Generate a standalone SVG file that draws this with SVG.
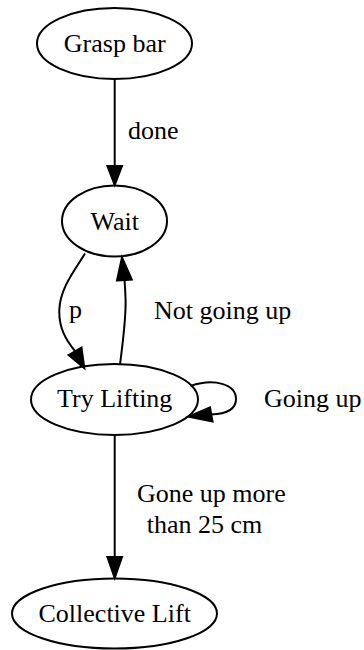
<svg xmlns="http://www.w3.org/2000/svg" width="364" height="650" viewBox="0 0 364 650">
  <style>
    .node ellipse { fill: none; stroke: #000; stroke-width: 2; }
    .edge path { fill: none; stroke: #000; stroke-width: 2; }
    .edge polygon { fill: #000; stroke: #000; stroke-width: 2; }
    text { font-family: 'Liberation Serif', Tinos, Times, 'DejaVu Serif', serif; font-size: 26px; fill: #000; }
    .node text { text-anchor: middle; }
  </style>
  <rect width="364" height="650" fill="#fff"/>

  <!-- connectors -->
  <g id="edges">
    <g class="edge" id="grasp_wait">
      <path d="M114.7,80 L114.7,166"/>
      <polygon points="107.4,166 122,166 114.7,185"/>
      <text x="128" y="139">done</text>
    </g>
    <g class="edge" id="wait_try">
      <path d="M85,253.5 C75,270 60,288 59.3,310 C58.7,328 66,340 75,351"/>
      <polygon points="68.5,355 81.5,347.5 84.3,368"/>
      <text x="69" y="318">p</text>
    </g>
    <g class="edge" id="try_wait">
      <path d="M120,364.5 C123,340 126,320 125.6,300 C125.3,292 125,286 124.5,280"/>
      <polygon points="117,280.5 131.8,279.5 122,257.5"/>
      <text x="154" y="319">Not going up</text>
    </g>
    <g class="edge" id="try_loop">
      <path d="M190.5,386 C214,378 236,384 236,399 C236,410 226,414 211,414.5"/>
      <polygon points="210,407.5 212.5,421.5 188.5,416.7"/>
      <text x="264" y="406.7">Going up</text>
    </g>
    <g class="edge" id="try_collective">
      <path d="M114.7,436 L114.7,557"/>
      <polygon points="107.4,557 122,557 114.7,578"/>
      <text x="137" y="501.7">Gone up more</text>
      <text x="146.7" y="533.3">than 25 cm</text>
    </g>
  </g>

  <!-- states -->
  <g class="node" id="grasp_bar">
    <ellipse cx="114.5" cy="43.5" rx="77.5" ry="35.5"/>
    <text x="114.7" y="51.5">Grasp bar</text>
  </g>
  <g class="node" id="wait">
    <ellipse cx="114.5" cy="221" rx="52.5" ry="35.5"/>
    <text x="114.7" y="230">Wait</text>
  </g>
  <g class="node" id="try_lifting">
    <ellipse cx="114.5" cy="399.5" rx="83.5" ry="35.5"/>
    <text x="114.7" y="406.5">Try Lifting</text>
  </g>
  <g class="node" id="collective_lift">
    <ellipse cx="114.5" cy="613.5" rx="102.5" ry="35"/>
    <text x="114.7" y="621.5">Collective Lift</text>
  </g>
</svg>
